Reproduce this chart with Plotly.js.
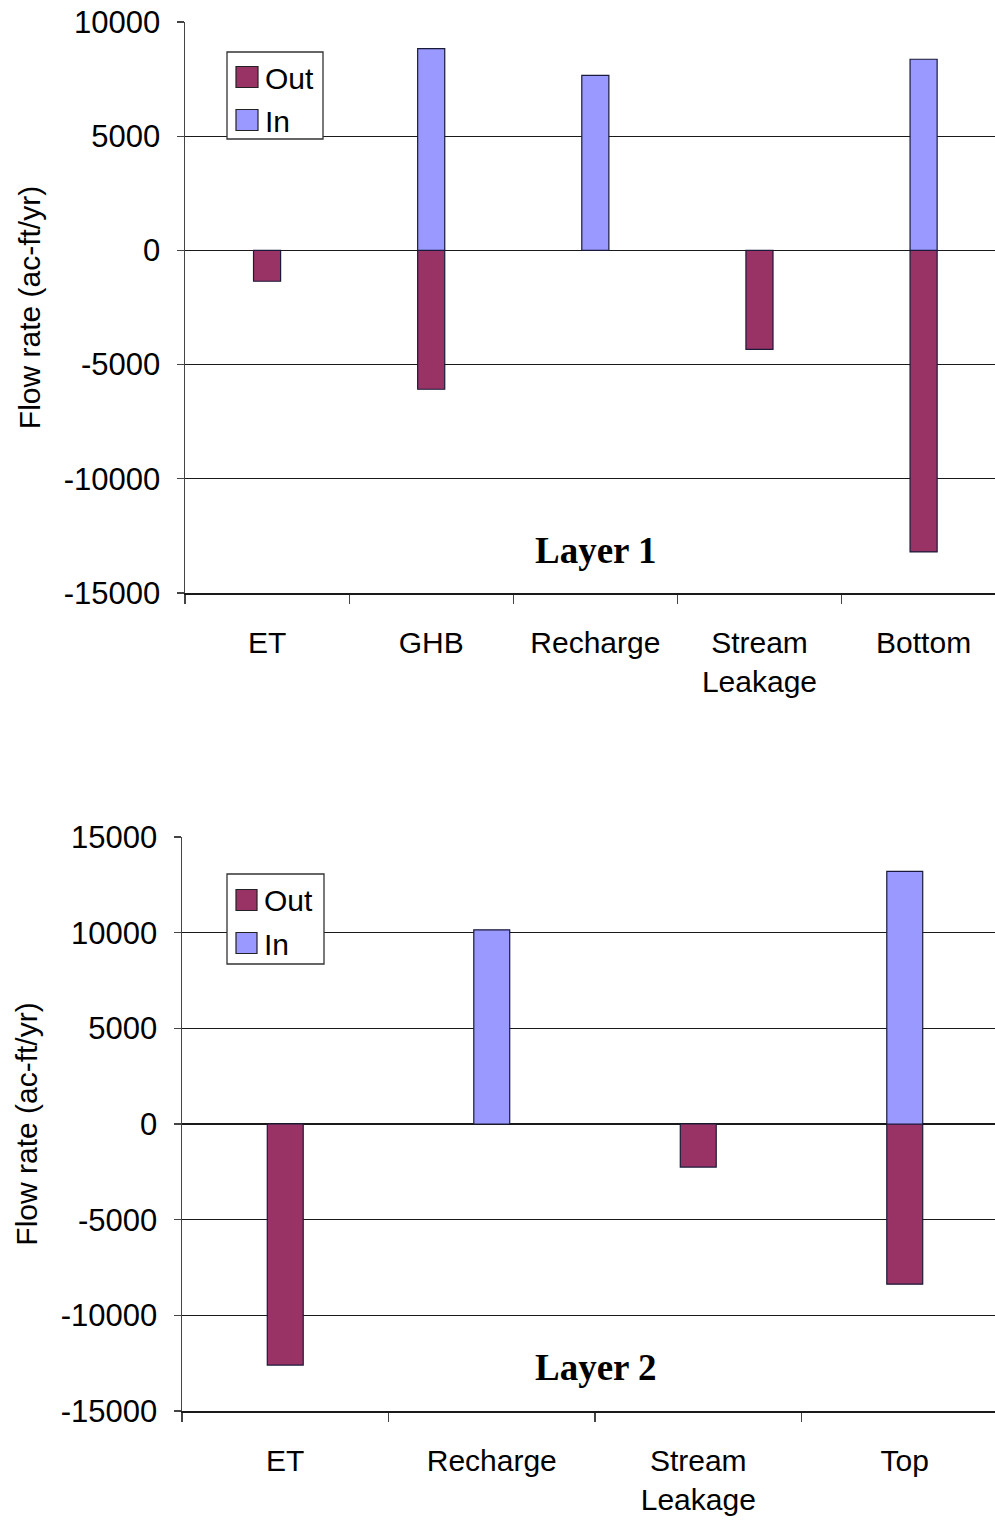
<!DOCTYPE html>
<html>
<head>
<meta charset="utf-8">
<script src="https://cdn.plot.ly/plotly-3.0.1.min.js"></script>
<style>html,body{margin:0;padding:0;background:#fff;}#chart{width:995px;height:1521px;}</style>
</head>
<body>
<div id="chart"></div>
<script>
// ---- Data ----
const categories1 = ['ET', 'GHB', 'Recharge', 'Stream Leakage', 'Bottom'];
const tickLabels1 = ['ET', 'GHB', 'Recharge', 'Stream<br>Leakage', 'Bottom'];
const out1 = [-1350, -6080, null, -4330, -13200];
const in1 = [null, 8830, 7660, null, 8370];

const categories2 = ['ET', 'Recharge', 'Stream Leakage', 'Top'];
const tickLabels2 = ['ET', 'Recharge', 'Stream<br>Leakage', 'Top'];
const out2 = [-12600, null, -2250, -8370];
const in2 = [null, 10150, null, 13200];

const yTickVals1 = [10000, 5000, 0, -5000, -10000, -15000];
const yTickText1 = ['10000', '5000', '0', '-5000', '-10000', '-15000'];
const yTickVals2 = [15000, 10000, 5000, 0, -5000, -10000, -15000];
const yTickText2 = ['15000', '10000', '5000', '0', '-5000', '-10000', '-15000'];

const seriesNames = ['Out', 'In'];
const panelTitles = ['Layer 1', 'Layer 2'];
const yTitle = 'Flow rate (ac-ft/yr)';

// ---- Style ----
const W = 995, H = 1521;
const OUT_COLOR = '#993366';
const IN_COLOR = '#9999FF';
const GRID = '#1a1a1a';
const FONT = 'Liberation Sans, Arial, sans-serif';
const px = x => x / W;
const py = y => 1 - y / H;

function bar(x, y, name, color, xa, ya, width) {
  return {type: 'bar', x: x, y: y, name: name, xaxis: xa, yaxis: ya, width: width,
    marker: {color: color, line: {color: '#1a1a3a', width: 1.2}}, showlegend: false,
    hoverinfo: 'x+y+name'};
}

const data = [
  bar(categories1, out1, seriesNames[0], OUT_COLOR, 'x', 'y', 0.165),
  bar(categories1, in1, seriesNames[1], IN_COLOR, 'x', 'y', 0.165),
  bar(categories2, out2, seriesNames[0], OUT_COLOR, 'x2', 'y2', 0.174),
  bar(categories2, in2, seriesNames[1], IN_COLOR, 'x2', 'y2', 0.174)
];

function xAxis(cats, labels, domain, range, anchor) {
  return {type: 'category', domain: domain, range: range, anchor: anchor,
    categoryorder: 'array', categoryarray: cats,
    tickmode: 'array', tickvals: cats, ticktext: labels, tickson: 'boundaries',
    ticks: 'outside', ticklen: 9, tickwidth: 1.2, tickcolor: '#444',
    showline: true, linecolor: '#1a1a1a', linewidth: 1.5, showgrid: false,
    tickfont: {family: FONT, size: 30, color: '#000'}, ticklabelstandoff: 22, fixedrange: true};
}
function yAxis(domain, range, anchor, vals, texts) {
  return {domain: domain, range: range, anchor: anchor,
    tickmode: 'array', tickvals: vals, ticktext: texts,
    ticks: 'outside', ticklen: 7, tickwidth: 1.2, tickcolor: '#444',
    showline: true, linecolor: '#444', linewidth: 1.5,
    showgrid: true, gridcolor: GRID, gridwidth: 1.2,
    zeroline: true, zerolinecolor: GRID, zerolinewidth: 1.2,
    tickfont: {family: FONT, size: 31, color: '#000'}, ticklabelstandoff: 10,
    title: {text: yTitle, font: {family: FONT, size: 30, color: '#000'}, standoff: 14},
    fixedrange: true};
}

const shapes = [];
const annotations = [];
function legendBox(x0, y0, x1, y1, sw, rows) {
  shapes.push({type: 'rect', xref: 'paper', yref: 'paper', x0: px(x0), x1: px(x1), y0: py(y1), y1: py(y0),
    line: {color: '#333', width: 1.3}, fillcolor: '#fff', layer: 'above'});
  rows.forEach((r, i) => {
    shapes.push({type: 'rect', xref: 'paper', yref: 'paper', x0: px(sw[0]), x1: px(sw[1]),
      y0: py(r.y + 10.5), y1: py(r.y - 10.5), line: {color: '#222', width: 1.2}, fillcolor: r.color, layer: 'above'});
    annotations.push({xref: 'paper', yref: 'paper', x: px(sw[1] + 5), y: py(r.y + 1), xanchor: 'left', yanchor: 'middle',
      text: r.name, showarrow: false, font: {family: FONT, size: 30, color: '#000'}});
  });
}
legendBox(227, 52, 323, 139, [236, 258], [{y: 77, name: seriesNames[0], color: OUT_COLOR}, {y: 120, name: seriesNames[1], color: IN_COLOR}]);
legendBox(227, 874, 324, 964, [236, 257], [{y: 900, name: seriesNames[0], color: OUT_COLOR}, {y: 943, name: seriesNames[1], color: IN_COLOR}]);

annotations.push({xref: 'paper', yref: 'paper', x: px(596), y: py(551), xanchor: 'center', yanchor: 'middle',
  text: '<b>' + panelTitles[0] + '</b>', showarrow: false, font: {family: 'Liberation Serif, Times New Roman, serif', size: 37, color: '#000'}});
annotations.push({xref: 'paper', yref: 'paper', x: px(596), y: py(1367), xanchor: 'center', yanchor: 'middle',
  text: '<b>' + panelTitles[1] + '</b>', showarrow: false, font: {family: 'Liberation Serif, Times New Roman, serif', size: 37, color: '#000'}});

const layout = {
  width: W, height: H, margin: {l: 0, r: 0, t: 0, b: 0},
  paper_bgcolor: '#fff', plot_bgcolor: '#fff',
  barmode: 'relative', showlegend: false,
  xaxis: xAxis(categories1, tickLabels1, [px(185), 1], [-0.5, 4.435], 'y'),
  yaxis: yAxis([py(593), py(22)], [-15000, 10000], 'x', yTickVals1, yTickText1),
  xaxis2: xAxis(categories2, tickLabels2, [px(182), 1], [-0.5, 3.437], 'y2'),
  yaxis2: yAxis([py(1411), py(837)], [-15000, 15000], 'x2', yTickVals2, yTickText2),
  shapes: shapes, annotations: annotations
};

Plotly.newPlot('chart', data, layout, {displayModeBar: false, staticPlot: true});
</script>
</body>
</html>
